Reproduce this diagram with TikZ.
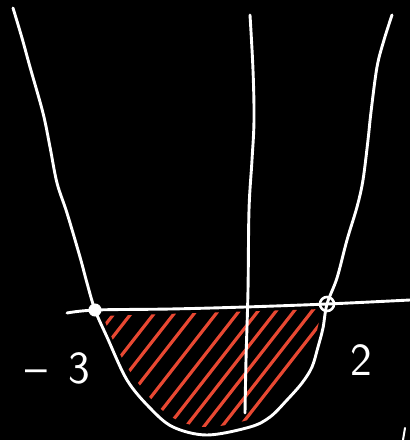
\documentclass[tikz,border=0pt]{standalone}
\definecolor{hatchred}{RGB}{232,72,50}
\begin{document}
\begin{tikzpicture}[x=1pt,y=-1pt,
  chalk/.style={draw=white,line width=2.9pt,line cap=round,line join=round},
  hatch/.style={draw=hatchred,line width=3.2pt,line cap=round},
  lbl/.style={text=white,inner sep=0pt,font=\sffamily\fontsize{46}{46}\selectfont}]
\fill[black] (0,0) rectangle (410,440);
\useasboundingbox (0,0) rectangle (410,440);
% hatching
\begin{scope}
  \clip plot[smooth,tension=0.6] coordinates {(103,316) (112,338) (129,370) (152,400) (175,419) (207,427) (248,420) (268,410) (284,394) (298,377) (308,361) (314,342) (319,322) (322,309)} -- cycle;
  \foreach \x in {120,137,160,180,200,222,243,262,280,298,316,334}
    \draw[hatch] (\x,306) -- ++(-135,173);
\end{scope}
% axes
\draw[chalk] plot[smooth,tension=0.6] coordinates {(67,313) (96,310) (170,309) (245,307) (327,304) (410,300)};
\draw[chalk] plot[smooth,tension=0.6] coordinates {(250,15) (253,70) (254,120) (252,160) (249,210) (248,290) (246,360) (245,413)};
% parabola
\draw[chalk] plot[smooth,tension=0.55] coordinates {(13,8) (22,38) (30,67) (43,113) (50,147) (57,183) (67,213) (80,257) (87,283) (95,310) (107,337) (127,380) (150,408) (173,427) (207,435) (250,427) (270,417) (287,400) (302,383) (312,367) (318,347) (323,328) (327,304) (337,278) (347,240) (357,207) (363,180) (368,140) (371,112) (377,67) (384,40) (392,15)};
% root markers
\node[circle,fill=white,draw=white,line width=1pt,minimum size=12pt,inner sep=0pt] (rootL) at (95,310) {};
\node[circle,draw=white,line width=2.6pt,minimum size=14pt,inner sep=0pt] (rootR) at (327,304) {};
% labels
\node[lbl,anchor=base west] (labL) at (25,383) {\textendash\hspace{22pt}3};
\node[lbl,anchor=base] (labR) at (361,375) {2};
% stray mark
\coordinate (m1) at (405,428);
\coordinate (m2) at (403,440);
\draw[chalk,line width=2pt] (m1) -- (m2);
\end{tikzpicture}
\end{document}
